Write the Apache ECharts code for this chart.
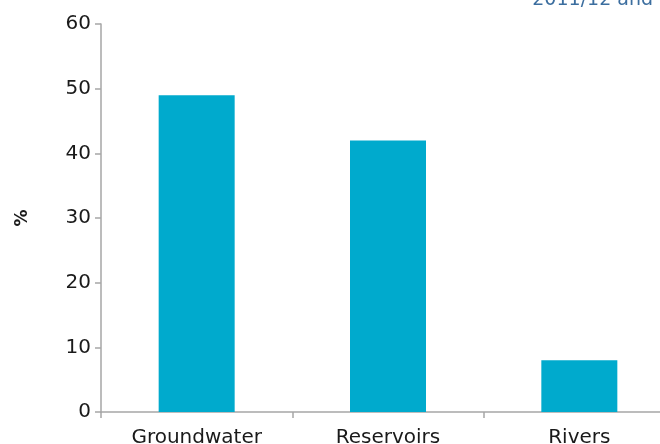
<!DOCTYPE html>
<html><head><meta charset="utf-8">
<script src="https://cdn.jsdelivr.net/npm/echarts@6/dist/echarts.min.js"></script>
<style>html,body{margin:0;padding:0;background:#fff}#c{width:660px;height:444px}</style>
</head><body><div id="c"></div>
<script>
const categories = ["Groundwater", "Reservoirs", "Rivers"];
const values = [49, 42, 8];
const yTicks = [0, 10, 20, 30, 40, 50, 60];
const titleText = "2011/12 and";
const yName = "%";

const chart = echarts.init(document.getElementById('c'));
const font = "DejaVu Sans";
chart.setOption({
  animation: false,
  grid: {left: 101, top: 24, bottom: 32, width: 574, containLabel: false, outerBoundsMode: 'none'},
  graphic: [{
    type: 'text', right: 7, top: -9,
    style: {text: titleText, fill: '#3c6e9f', font: '19px "DejaVu Sans"'}
  }],
  xAxis: {
    type: 'category', data: categories,
    axisLine: {lineStyle: {color: '#a6a6a6', width: 1.5}},
    axisTick: {show: true, length: 6, lineStyle: {color: '#a6a6a6', width: 1.5}},
    axisLabel: {color: '#1a1a1a', fontSize: 20, fontFamily: font, margin: 16}
  },
  yAxis: {
    type: 'value', min: yTicks[0], max: yTicks[yTicks.length - 1], interval: 10,
    name: yName, nameLocation: 'middle', nameGap: 70, nameRotate: 90,
    nameTextStyle: {color: '#1a1a1a', fontSize: 17, fontWeight: 'bold', fontFamily: font},
    splitLine: {show: false},
    axisLine: {show: true, lineStyle: {color: '#a6a6a6', width: 1.5}},
    axisTick: {show: true, length: 6, lineStyle: {color: '#a6a6a6', width: 1.5}},
    axisLabel: {color: '#1a1a1a', fontSize: 20, fontFamily: font, margin: 10}
  },
  series: [{
    type: 'bar', data: values, barWidth: 76,
    itemStyle: {color: '#00aacd'}
  }]
});
</script></body></html>
